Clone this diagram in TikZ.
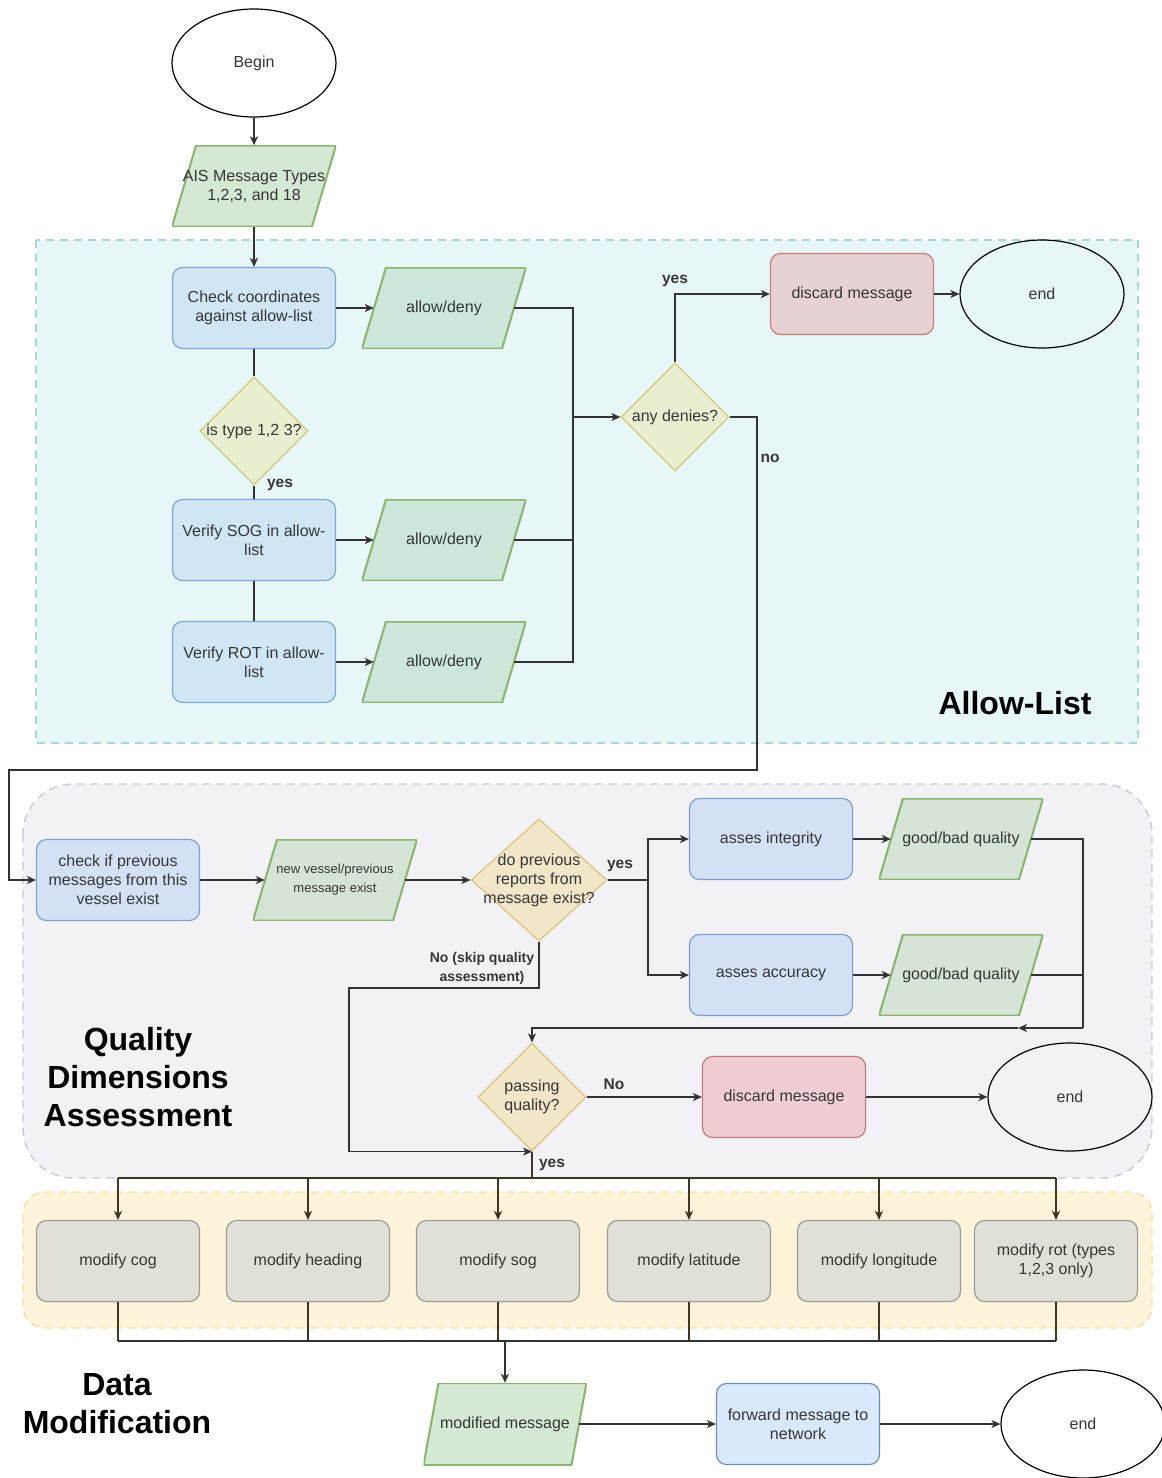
\documentclass[tikz,border=0pt]{standalone}
\usepackage{fontspec}
\setmainfont{Liberation Sans}
\usetikzlibrary{shapes.geometric,arrows.meta}

% palette
\definecolor{txtc}{HTML}{363636}
\definecolor{linec}{HTML}{333333}
\definecolor{busc}{HTML}{3E3522}
\definecolor{alBg}{HTML}{E7F6F7}
\definecolor{alBd}{HTML}{A8D6D9}
\definecolor{qBg}{HTML}{F1F1F6}
\definecolor{qBd}{HTML}{C9C9D9}
\definecolor{dmBg}{HTML}{FDF3DB}
\definecolor{dmBd}{HTML}{F5DE9F}
\definecolor{blueA}{HTML}{D0E6F5}
\definecolor{blueAs}{HTML}{7EA8D4}
\definecolor{blueQ}{HTML}{D4E1F5}
\definecolor{blueQs}{HTML}{7D9FD0}
\definecolor{blueB}{HTML}{DAE8FC}
\definecolor{blueBs}{HTML}{6C8EBF}
\definecolor{greenA}{HTML}{CCE7D9}
\definecolor{greenQ}{HTML}{D5E4D6}
\definecolor{greenB}{HTML}{D5E8D4}
\definecolor{greenS}{HTML}{88B46E}
\definecolor{yelA}{HTML}{EAEED1}
\definecolor{yelAs}{HTML}{D3C77B}
\definecolor{yelQ}{HTML}{F2E6C9}
\definecolor{yelQs}{HTML}{D8C27E}
\definecolor{redA}{HTML}{E6D1D3}
\definecolor{redAs}{HTML}{C57E7A}
\definecolor{redQ}{HTML}{F0CDD3}
\definecolor{redQs}{HTML}{C47B7F}
\definecolor{greyM}{HTML}{E0E0D8}
\definecolor{greyMs}{HTML}{9C9C96}

\tikzset{
  x=1pt, y=-1pt,
  txt/.style={font=\fontsize{16}{19}\selectfont, text=txtc, align=center, inner sep=0pt},
  small/.style={font=\fontsize{13}{19}\selectfont, text=txtc, align=center, inner sep=0pt},
  lbl/.style={font=\fontsize{15.5}{19}\selectfont\bfseries, text=txtc, align=center, inner sep=0pt},
  lblsmall/.style={font=\fontsize{14}{19}\selectfont\bfseries, text=txtc, align=center, inner sep=0pt},
  region/.style={font=\fontsize{32}{38}\selectfont\bfseries, text=black, align=center, inner sep=0pt},
  box/.style 2 args={txt, rectangle, rounded corners=10pt, minimum width=163pt,
    minimum height=81pt, fill=#1, draw=#2, line width=1.2pt},
  % slanted data box: a fixed rectangle holding a parallelogram (slant #3)
  slanted/.style n args={3}{txt, rectangle, minimum width=164pt, minimum height=81pt,
    path picture={\path[fill=#1, draw=#2, line width=2pt]
      ([xshift=#3]path picture bounding box.north west)
      -- (path picture bounding box.north east)
      -- ([xshift=-#3]path picture bounding box.south east)
      -- (path picture bounding box.south west) -- cycle;}},
  para/.style 2 args={slanted={#1}{#2}{24pt}},
  dia/.style 2 args={diamond, minimum width=108pt, minimum height=108pt, inner sep=0pt,
    fill=#1, draw=#2, line width=1.2pt},
  term/.style={txt, ellipse, minimum width=164pt, minimum height=108pt, draw=black,
    line width=1.2pt},
  line/.style={draw=linec, line width=1.3pt},
  arr/.style={line, -{Stealth[length=9pt, width=8pt, inset=2.5pt]}},
  busarr/.style={draw=busc, line width=1.2pt, -{Stealth[length=9pt, width=8pt, inset=2.5pt]}},
  busline/.style={draw=busc, line width=1.2pt},
  dashbox/.style 2 args={fill=#1, draw=#2, line width=1.4pt, dash pattern=on 8pt off 6pt},
}

\begin{document}
\begin{tikzpicture}
\useasboundingbox (0,0) rectangle (1162,1478);

% ---------- background regions ----------
\path[dashbox={alBg}{alBd}] (36,240) rectangle (1138,743);
\path[dashbox={qBg}{qBd}, rounded corners=50pt] (23,784) rectangle (1152,1178);
\path[dashbox={dmBg}{dmBd}, rounded corners=22pt] (23,1192) rectangle (1152,1328);

% ---------- entry ----------
\node[term, fill=white] (begin) at (254,63) {Begin};
\node[para={greenB}{greenS}] (ais) at (254,186) {AIS Message Types\\1,2,3, and 18};

% ---------- allow-list stage ----------
\node[box={blueA}{blueAs}] (chk) at (254,308) {Check coordinates\\against allow-list};
\node[para={greenA}{greenS}] (ad1) at (444,308) {allow/deny};
\node[dia={yelA}{yelAs}, label={[txt]center:is type 1,2 3?}] (typ) at (254,431) {};
\node[box={blueA}{blueAs}] (sog) at (254,540) {Verify SOG in allow-\\list};
\node[para={greenA}{greenS}] (ad2) at (444,540) {allow/deny};
\node[box={blueA}{blueAs}] (rot) at (254,662) {Verify ROT in allow-\\list};
\node[para={greenA}{greenS}] (ad3) at (444,662) {allow/deny};
\node[dia={yelA}{yelAs}, label={[txt]center:any denies?}] (any) at (675,417) {};
\node[box={redA}{redAs}] (dis1) at (852,294) {discard message};
\node[term] (end1) at (1042,294) {end};
\node[region] (allowlbl) at (1015,703) {Allow-List};

\coordinate (join) at (573,417);
\coordinate (noA) at (757,770);
\coordinate (noB) at (9,770);

\draw[arr] (begin) -- (ais);
\draw[arr] (ais) -- (chk);
\draw[arr] (chk) -- ([xshift=12pt]ad1.west);
\draw[line] (chk) -- (typ);
\draw[line] (typ) -- (sog);
\draw[line] (sog) -- (rot);
\draw[arr] (sog) -- ([xshift=12pt]ad2.west);
\draw[arr] (rot) -- ([xshift=12pt]ad3.west);
\draw[line] ([xshift=-12pt]ad1.east) -| (join);
\draw[line] ([xshift=-12pt]ad3.east) -| (join);
\draw[line] ([xshift=-12pt]ad2.east) -- (ad2.east -| join);
\draw[arr] (join) -- (any);
\draw[arr] (any.north) |- (dis1);
\draw[arr] (dis1) -- (end1);

\node[lbl] (yes1) at (280,485) {yes};
\node[lbl] (yes2) at (675,281) {yes};
\node[lbl] (no1) at (770,458) {no};

% ---------- quality dimensions stage ----------
\node[box={blueQ}{blueQs}] (prev) at (118,880) {check if previous\\messages from this\\vessel exist};
\node[para={greenQ}{greenS}, small] (nv) at (335,880) {new vessel/previous\\message exist};
\node[dia={yelQ}{yelQs}, minimum width=136pt, minimum height=122pt,
  label={[txt]center:do previous\\reports from\\message exist?}] (dp) at (539,880) {};
\node[box={blueQ}{blueQs}] (ai) at (771,839) {asses integrity};
\node[para={greenQ}{greenS}] (gb1) at (961,839) {good/bad quality};
\node[box={blueQ}{blueQs}] (aa) at (771,975) {asses accuracy};
\node[para={greenQ}{greenS}] (gb2) at (961,975) {good/bad quality};
\node[dia={yelQ}{yelQs}, label={[txt]center:passing\\quality?}] (pq) at (532,1097) {};
\node[box={redQ}{redQs}] (dis2) at (784,1097) {discard message};
\node[term] (end2) at (1070,1097) {end};
\node[region] (qlbl) at (138,1077) {Quality\\Dimensions\\Assessment};

% the "no" route out of the allow-list check
\draw[arr] (any.east) -| (noA) -- (noB) |- (prev.west);

\coordinate (split) at (648,880);
\coordinate (merge) at (1083,1028);
\coordinate (mergeMid) at (1018,1028);
\coordinate (skip) at (349,988);

\draw[arr] (prev) -- ([xshift=12pt]nv.west);
\draw[arr] ([xshift=-12pt]nv.east) -- (dp);
\draw[line] (dp.east) -- (split);
\draw[arr] (split) |- (ai);
\draw[arr] (split) |- (aa);
\draw[arr] (ai) -- ([xshift=12pt]gb1.west);
\draw[arr] (aa) -- ([xshift=12pt]gb2.west);
\draw[line] ([xshift=-12pt]gb1.east) -| (merge);
\draw[line] ([xshift=-12pt]gb2.east) -- (gb2.east -| merge);
\draw[arr] (merge) -- (mergeMid);
\draw[arr] (mergeMid) -| (pq.north);
\draw[arr] (pq) -- (dis2);
\draw[arr] (dis2) -- (end2);
\draw[arr] (dp.south) |- (skip) |- (pq.south);

\node[lbl] (yes3) at (620,866) {yes};
\node[lbl] (no2) at (614,1084) {No};
\node[lblsmall] (skiplbl) at (482,968) {No (skip quality\\assessment)};
\node[lbl] (yes4) at (552,1165) {yes};

% ---------- data modification stage ----------
\node[box={greyM}{greyMs}] (m1) at (118,1261) {modify cog};
\node[box={greyM}{greyMs}] (m2) at (308,1261) {modify heading};
\node[box={greyM}{greyMs}] (m3) at (498,1261) {modify sog};
\node[box={greyM}{greyMs}] (m4) at (689,1261) {modify latitude};
\node[box={greyM}{greyMs}] (m5) at (879,1261) {modify longitude};
\node[box={greyM}{greyMs}] (m6) at (1056,1261) {modify rot (types\\1,2,3 only)};

\coordinate (busTop) at (532,1178);
\coordinate (busBot) at (505,1341);

\draw[busline] (pq.south) -- (busTop);
\draw[busline] (m1.north |- busTop) -- (m6.north |- busTop);
\foreach \m in {m1,m2,m3,m4,m5,m6} {
  \draw[busarr] (\m.north |- busTop) -- (\m.north);
  \draw[busline] (\m.south) -- (\m.south |- busBot);
}
\draw[line] (m1.south |- busBot) -- (m6.south |- busBot);

\node[slanted={greenB}{greenS}{15pt}, minimum width=163pt, minimum height=82pt] (mm) at (505,1424) {modified message};
\node[box={blueB}{blueBs}] (fwd) at (798,1424) {forward message to\\network};
\node[term] (end3) at (1083,1424) {end};
\node[region] (dmlbl) at (117,1404) {Data\\Modification};

\draw[arr] (busBot) -- (mm);
\draw[arr] ([xshift=-7.5pt]mm.east) -- (fwd);
\draw[arr] (fwd) -- (end3);
\end{tikzpicture}
\end{document}
